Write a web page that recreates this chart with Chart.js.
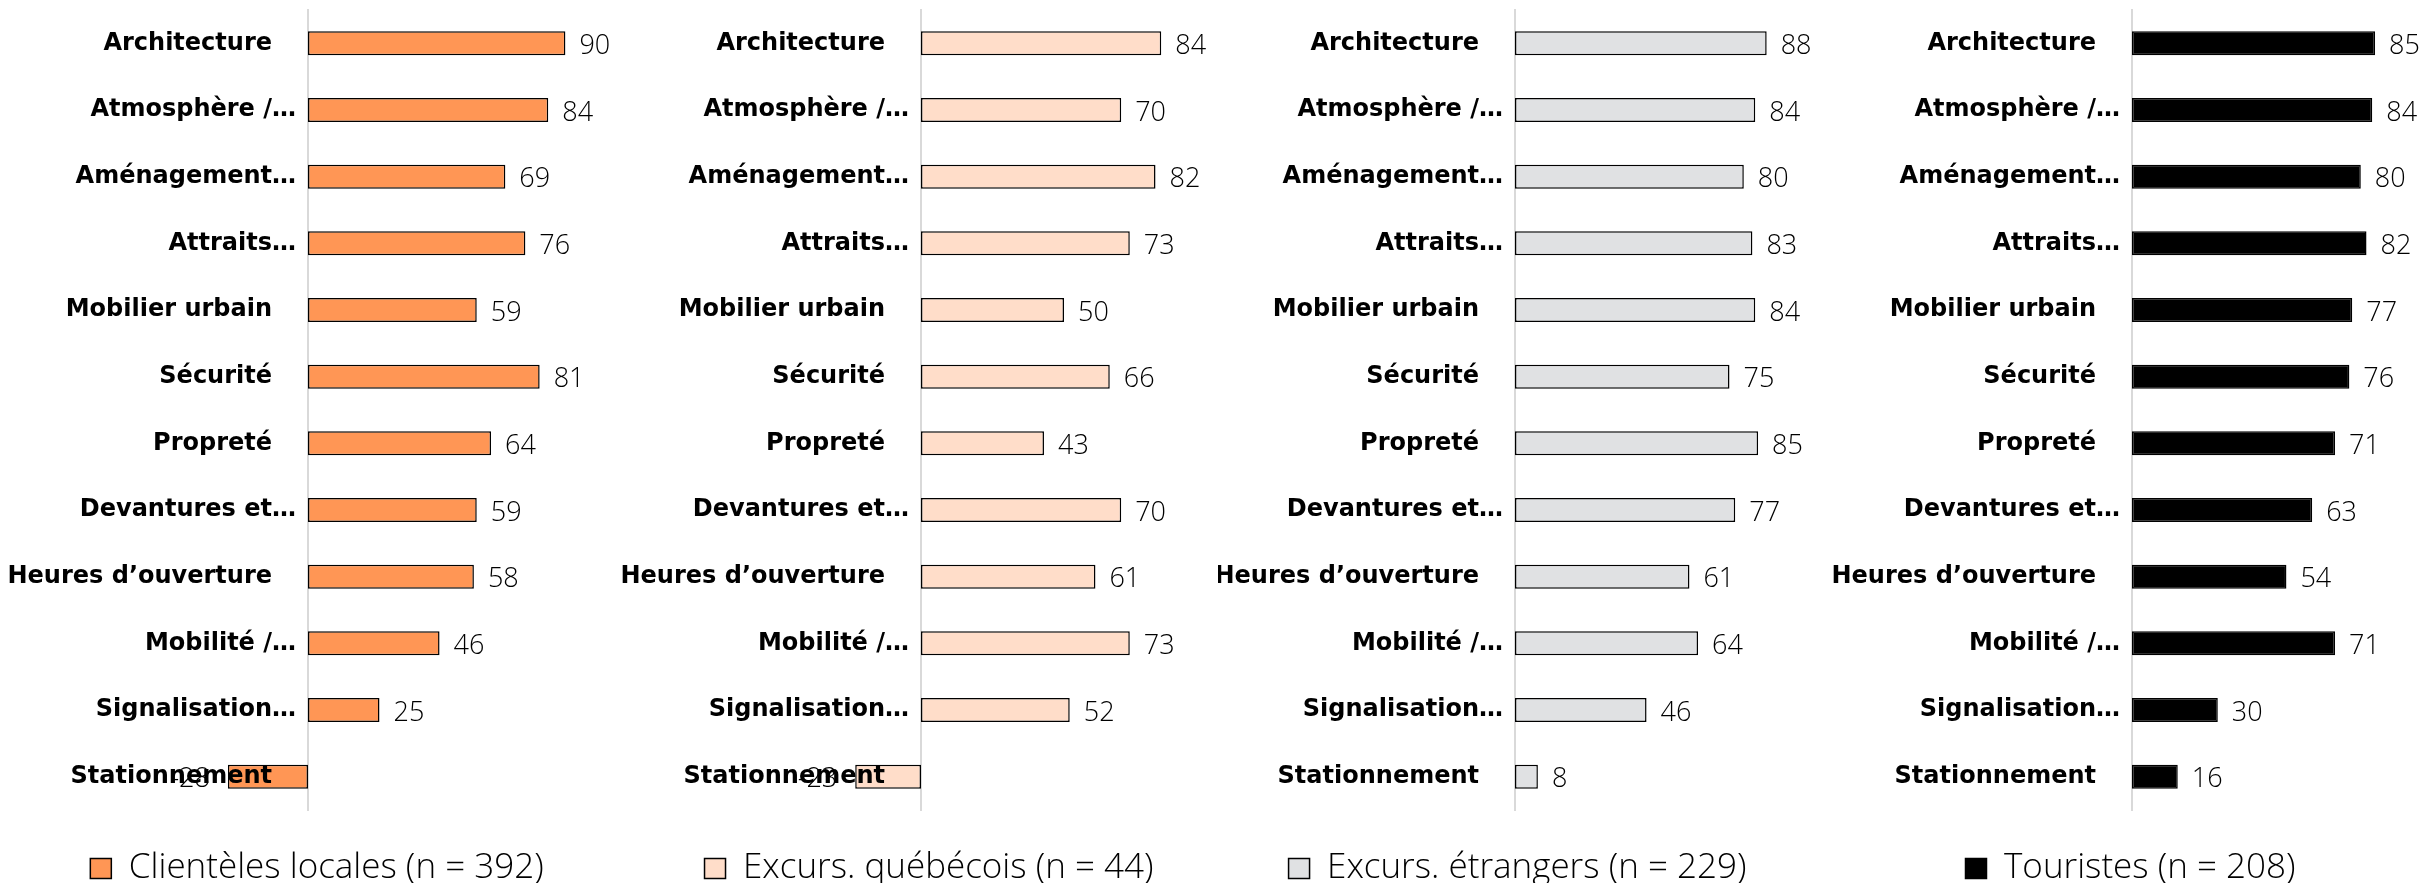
<!DOCTYPE html>
<html lang="fr">
<head>
    <meta charset="UTF-8">
    <title>Évaluation par clientèle</title>
    <script src="https://cdn.jsdelivr.net/npm/chart.js"></script>
    <style>
        body { margin: 0; overflow: hidden; background: #fff; width: 2435px; height: 883px; position: relative; }
        .panel { position: absolute; top: 0; width: 640px; height: 896px; }
    </style>
</head>
<body>
    <div class="panel" style="left:0px"><canvas id="c0" width="640" height="896"></canvas></div>
    <div class="panel" style="left:609px"><canvas id="c1" width="640" height="896"></canvas></div>
    <div class="panel" style="left:1218px"><canvas id="c2" width="640" height="896"></canvas></div>
    <div class="panel" style="left:1827px"><canvas id="c3" width="640" height="896"></canvas></div>
    <script>
        const categories = [
            "Architecture", "Atmosphère /…", "Aménagement…", "Attraits…",
            "Mobilier urbain", "Sécurité", "Propreté", "Devantures et…",
            "Heures d’ouverture", "Mobilité /…", "Signalisation…", "Stationnement"
        ];
        const clientelesLocales = [90, 84, 69, 76, 59, 81, 64, 59, 58, 46, 25, -28];
        const excursQuebecois = [84, 70, 82, 73, 50, 66, 43, 70, 61, 73, 52, -23];
        const excursEtrangers = [88, 84, 80, 83, 84, 75, 85, 77, 61, 64, 46, 8];
        const touristes = [85, 84, 80, 82, 77, 76, 71, 63, 54, 71, 30, 16];
        const seriesNames = [
            "Clientèles locales (n = 392)",
            "Excurs. québécois (n = 44)",
            "Excurs. étrangers (n = 229)",
            "Touristes (n = 208)"
        ];

        // colour, axis position, right padding and legend offset of each small chart
        // (canvas is 640 wide, panels 609 apart)
        const panels = [
            { data: clientelesLocales, color: "#FF9655", axis: 308, right: 46, legendShift: 20 },
            { data: excursQuebecois, color: "#FFDDC9", axis: 312, right: 42, legendShift: 21 },
            { data: excursEtrangers, color: "#E0E1E3", axis: 297, right: 57, legendShift: 8 },
            { data: touristes, color: "#000000", axis: 305, right: 49, legendShift: 8 }
        ];

        const valueLabels = {
            id: "valueLabels",
            afterDatasetsDraw(chart) {
                const ctx = chart.ctx;
                const meta = chart.getDatasetMeta(0);
                const values = chart.data.datasets[0].data;
                ctx.save();
                ctx.font = "300 27px 'Open Sans', sans-serif";
                ctx.fillStyle = "#000";
                ctx.textBaseline = "middle";
                meta.data.forEach((bar, i) => {
                    const v = values[i];
                    if (v >= 0) {
                        ctx.textAlign = "left";
                        ctx.fillText(v, bar.x + 14, bar.y + 3);
                    } else {
                        ctx.textAlign = "right";
                        ctx.fillText(v, bar.x - 18, bar.y + 3);
                    }
                });
                ctx.restore();
            }
        };

        panels.forEach((p, k) => {
            const moveLegend = {
                id: "moveLegend",
                afterLayout(chart) {
                    chart.legend.left += p.legendShift;
                    chart.legend.right += p.legendShift;
                }
            };
            new Chart(document.getElementById("c" + k), {
                type: "bar",
                data: {
                    labels: categories,
                    datasets: [{
                        label: seriesNames[k],
                        data: p.data,
                        backgroundColor: p.color,
                        borderColor: "#000",
                        borderWidth: 1.5,
                        borderSkipped: false,
                        categoryPercentage: 1,
                        barPercentage: 0.36,
                        clip: false
                    }]
                },
                options: {
                    indexAxis: "y",
                    responsive: false,
                    animation: false,
                    layout: { padding: { top: 10, right: p.right, left: 0, bottom: 0 } },
                    scales: {
                        x: { display: false, min: 0, max: 100 },
                        y: {
                            grid: { display: false },
                            border: { display: true, color: "#d9d9d9", width: 2 },
                            afterFit(scale) {
                                scale.width = p.axis;
                                scale.paddingTop = 0;
                                scale.paddingBottom = 0;
                            },
                            ticks: {
                                z: 1,
                                padding: 4,
                                color: "#000",
                                font: { family: "'DejaVu Sans', sans-serif", weight: "bold", size: 24 },
                                callback(value) {
                                    const s = this.getLabelForValue(value);
                                    return s.endsWith("…") ? s : s + "\u2002\u2002";
                                }
                            }
                        }
                    },
                    plugins: {
                        tooltip: { enabled: false },
                        legend: {
                            position: "bottom",
                            labels: {
                                boxWidth: 21,
                                boxHeight: 20,
                                padding: 41,
                                color: "#000",
                                font: { family: "'Open Sans', sans-serif", weight: "300", size: 35 }
                            }
                        }
                    }
                },
                plugins: [valueLabels, moveLegend]
            });
        });
    </script>
</body>
</html>
